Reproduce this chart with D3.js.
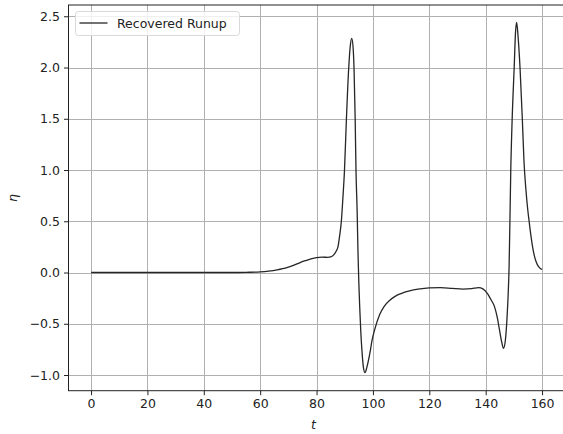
<!DOCTYPE html>
<html>
<head>
<meta charset="utf-8">
<script src="https://cdn.jsdelivr.net/npm/d3@7"></script>
<style>
  html, body { margin: 0; padding: 0; background: #fff; }
  svg { display: block; }
  text { font-family: "DejaVu Sans", sans-serif; }
</style>
</head>
<body>
<svg id="chart" width="563" height="434"></svg>
<script>
const seriesName = "Recovered Runup";
const tValues = [0, 10, 20, 30, 40, 50, 55, 60, 63, 66, 68, 70, 72, 74, 76, 78, 80, 82, 84, 85, 86, 87, 87.6, 88.2, 88.8, 89.3, 89.9, 90.6, 91.4, 92.0, 92.5, 93.0, 93.3, 93.7, 94.0, 94.4, 94.7, 95.0, 95.3, 95.7, 96.1, 96.6, 97.2, 97.8, 98.9, 99.7, 100.6, 102.4, 104, 106, 108, 110, 113, 116, 120, 124, 128, 132, 135, 137.5, 139, 140.5, 142, 143.1, 144.2, 144.9, 145.7, 146.3, 146.9, 147.6, 148.0, 148.3, 148.6, 148.9, 149.4, 150.1, 150.6, 151.0, 151.5, 152.2, 153.0, 153.6, 154.3, 154.9, 155.5, 156.1, 156.7, 157.3, 157.9, 158.7, 159.4, 160];
const etaValues = [0, 0, 0, 0, 0, 0.0, 0.002, 0.006, 0.013, 0.025, 0.037, 0.053, 0.072, 0.095, 0.115, 0.133, 0.146, 0.150, 0.148, 0.152, 0.17, 0.21, 0.25, 0.36, 0.5, 0.707, 0.99, 1.5, 1.99, 2.22, 2.285, 2.18, 1.99, 1.5, 0.99, 0.6, 0.2, -0.1, -0.33, -0.58, -0.76, -0.92, -0.977, -0.93, -0.79, -0.66, -0.56, -0.41, -0.33, -0.27, -0.23, -0.205, -0.18, -0.163, -0.150, -0.148, -0.155, -0.162, -0.158, -0.148, -0.16, -0.2, -0.27, -0.33, -0.45, -0.56, -0.68, -0.74, -0.68, -0.43, -0.2, 0.05, 0.5, 0.99, 1.5, 1.99, 2.35, 2.44, 2.3, 1.99, 1.5, 1.08, 0.80, 0.62, 0.48, 0.35, 0.24, 0.16, 0.105, 0.06, 0.04, 0.03];
const xTicks = [0, 20, 40, 60, 80, 100, 120, 140, 160];
const yTicks = [-1.0, -0.5, 0.0, 0.5, 1.0, 1.5, 2.0, 2.5];
const xLabel = "t";
const yLabel = "η";

const svg = d3.select("#chart");
const mLeft = 68.5, mRight = 564.6, mTop = 5, mBottom = 390.7;

const x = d3.scaleLinear().domain([-8, 168]).range([mLeft, mRight]);
const y = d3.scaleLinear().domain([-1.153, 2.61]).range([mBottom, mTop]);

const data = tValues.map((t, i) => ({ t, v: etaValues[i] }));

// grid
const grid = svg.append("g");
grid.selectAll("line.gx").data(xTicks).enter().append("line")
  .attr("x1", d => Math.round(x(d)) + 0.5).attr("x2", d => Math.round(x(d)) + 0.5)
  .attr("y1", mTop).attr("y2", mBottom)
  .attr("stroke", "#b0b0b0").attr("stroke-width", 1);
grid.selectAll("line.gy").data(yTicks).enter().append("line")
  .attr("y1", d => Math.round(y(d)) + 0.5).attr("y2", d => Math.round(y(d)) + 0.5)
  .attr("x1", mLeft).attr("x2", mRight)
  .attr("stroke", "#b0b0b0").attr("stroke-width", 1);

// line
const line = d3.line().x(d => x(d.t)).y(d => y(d.v)).curve(d3.curveMonotoneX);
svg.append("path").datum(data)
  .attr("d", line)
  .attr("fill", "none").attr("stroke", "#262626").attr("stroke-width", 1.3)
  .attr("stroke-linejoin", "round");

// axes
const xAxis = d3.axisBottom(x).tickValues(xTicks).tickFormat(d3.format("d")).tickSize(4.5).tickPadding(4);
const yAxis = d3.axisLeft(y).tickValues(yTicks)
  .tickFormat(d => d3.format(".1f")(d).replace("-", "\u2212")).tickSize(4.5).tickPadding(4);

const gx = svg.append("g").attr("transform", `translate(0,${mBottom})`).call(xAxis);
const gy = svg.append("g").attr("transform", `translate(${mLeft},0)`).call(yAxis);
[gx, gy].forEach(g => {
  g.select(".domain").remove();
  g.selectAll("line").attr("stroke", "#222").attr("stroke-width", 1);
  g.selectAll("text").attr("fill", "#222").style("font-size", "12.5px").style("font-family", "DejaVu Sans, sans-serif");
});

// spines
svg.append("rect").attr("x", mLeft).attr("y", mTop)
  .attr("width", mRight - mLeft).attr("height", mBottom - mTop)
  .attr("fill", "none").attr("stroke", "#222").attr("stroke-width", 1);

// axis labels
svg.append("text").attr("x", (mLeft + mRight) / 2 - 3).attr("y", 429)
  .attr("text-anchor", "middle").style("font-style", "italic").style("font-size", "12.5px")
  .attr("fill", "#222").text(xLabel);
svg.append("text").attr("transform", "translate(17,198) rotate(-90)")
  .attr("text-anchor", "middle").style("font-style", "italic").style("font-size", "12.5px")
  .attr("fill", "#222").text(yLabel);

// legend
const lg = svg.append("g");
lg.append("rect").attr("x", 75.5).attr("y", 11.5).attr("width", 164).attr("height", 24).attr("rx", 3)
  .attr("fill", "#fff").attr("fill-opacity", 0.8).attr("stroke", "#d9d9d9").attr("stroke-width", 1);
lg.append("line").attr("x1", 79.5).attr("x2", 107.5).attr("y1", 23).attr("y2", 23)
  .attr("stroke", "#262626").attr("stroke-width", 1.3);
lg.append("text").attr("x", 117).attr("y", 27.5).style("font-size", "12.5px").attr("fill", "#222").text(seriesName);
</script>
</body>
</html>
